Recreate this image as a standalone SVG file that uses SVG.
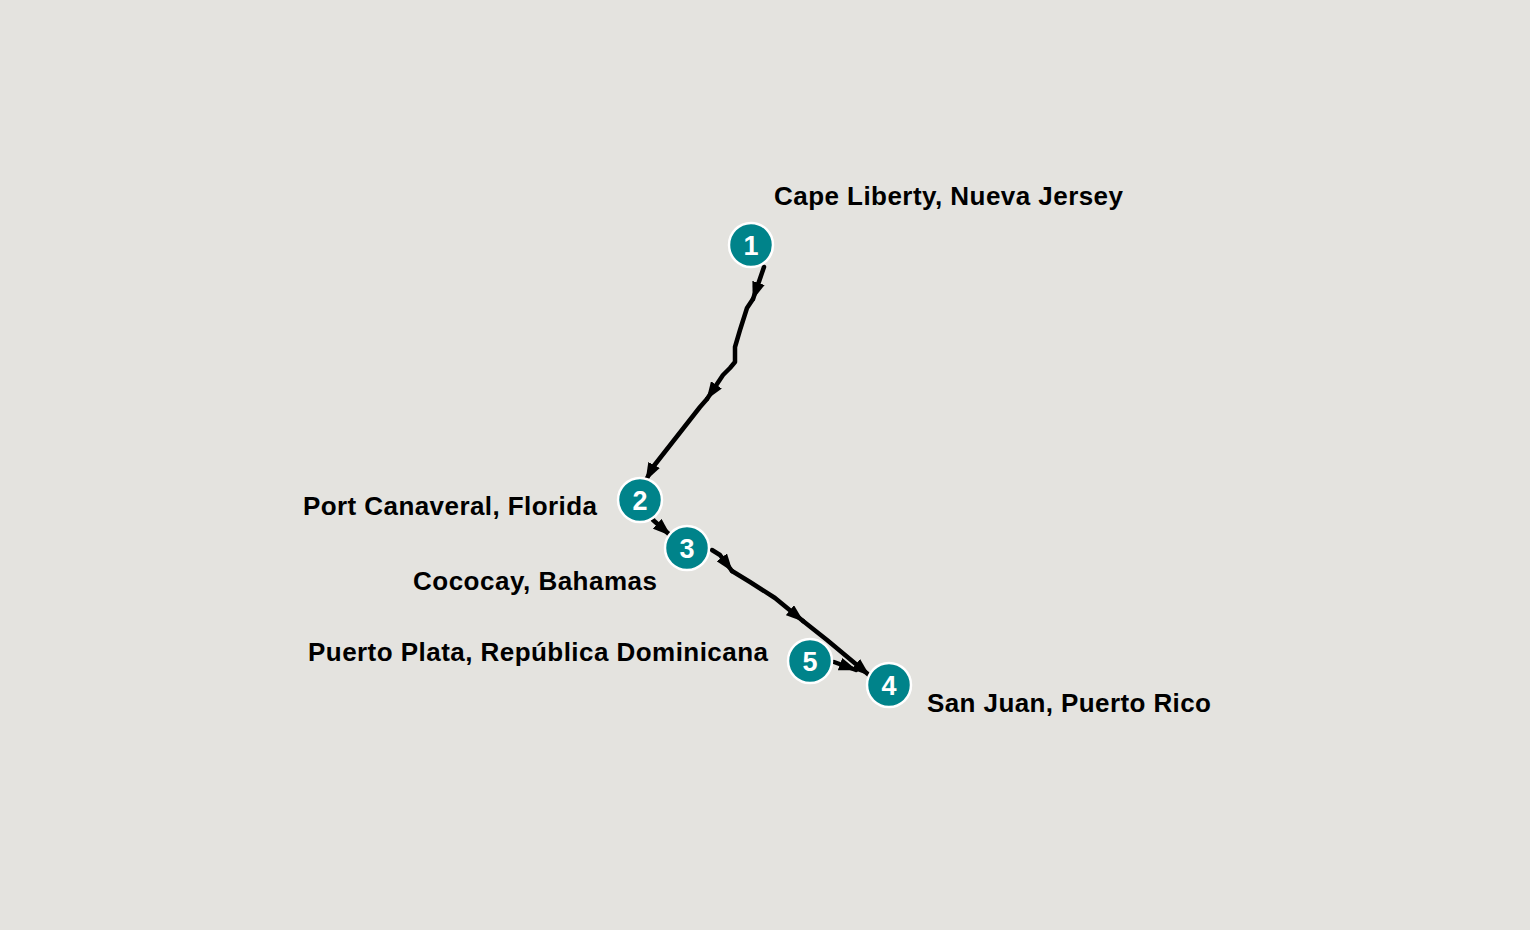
<svg xmlns="http://www.w3.org/2000/svg" width="1530" height="930" viewBox="0 0 1530 930">
<defs>
<style>
.bg{fill:#e4e3df}
.node circle{fill:#00838a;stroke:#ffffff;stroke-width:2.5}
.num{font-family:"Liberation Sans",Arial,sans-serif;font-weight:bold;font-size:27px;fill:#ffffff;text-anchor:middle}
.lbl{font-family:"Liberation Sans",Arial,sans-serif;font-weight:bold;font-size:26px;fill:#000000}
.edge{fill:none;stroke:#000000;stroke-width:4.5;stroke-linejoin:round;stroke-linecap:round}
</style>
<marker id="arr" viewBox="0 0 18 13" refX="17" refY="6.5" markerWidth="18" markerHeight="13" markerUnits="userSpaceOnUse" orient="auto">
<path d="M0,0 L18,6.5 L0,13 Z" fill="#000000"/>
</marker>
</defs>
<rect class="bg" x="0" y="0" width="1530" height="930"/>
<g id="connectors">
<path class="edge" marker-end="url(#arr)" d="M764,267 L753,299"/>
<path class="edge" marker-end="url(#arr)" d="M753,299 L747,308 L740,330 L735,347 L735,362 L730,368 L723,375 L707,399"/>
<path class="edge" marker-end="url(#arr)" d="M707,399 L700,407 L653,467 L646,480"/>
<path class="edge" marker-end="url(#arr)" d="M653,520 L670,535"/>
<path class="edge" marker-end="url(#arr)" d="M712,550 L720,555 L732,571"/>
<path class="edge" marker-end="url(#arr)" d="M732,571 L750,582 L775,598 L803,621"/>
<path class="edge" marker-end="url(#arr)" d="M803,621 L827,640 L869,675"/>
<path class="edge" marker-end="url(#arr)" d="M834,662 L856,670"/>
</g>
<g id="node1" class="node"><circle cx="751" cy="245" r="22"/><text class="num" x="751" y="254.5">1</text></g>
<g id="node2" class="node"><circle cx="640" cy="500" r="22"/><text class="num" x="640" y="509.5">2</text></g>
<g id="node3" class="node"><circle cx="687" cy="548" r="22"/><text class="num" x="687" y="557.5">3</text></g>
<g id="node4" class="node"><circle cx="889" cy="685" r="22"/><text class="num" x="889" y="694.5">4</text></g>
<g id="node5" class="node"><circle cx="810" cy="661" r="22"/><text class="num" x="810" y="670.5">5</text></g>
<g id="labels">
<text class="lbl" x="774" y="205" textLength="349" lengthAdjust="spacing">Cape Liberty, Nueva Jersey</text>
<text class="lbl" x="303" y="515" textLength="294" lengthAdjust="spacing">Port Canaveral, Florida</text>
<text class="lbl" x="413" y="590" textLength="244" lengthAdjust="spacing">Cococay, Bahamas</text>
<text class="lbl" x="308" y="661" textLength="460" lengthAdjust="spacing">Puerto Plata, República Dominicana</text>
<text class="lbl" x="927" y="712" textLength="284" lengthAdjust="spacing">San Juan, Puerto Rico</text>
</g>
</svg>
